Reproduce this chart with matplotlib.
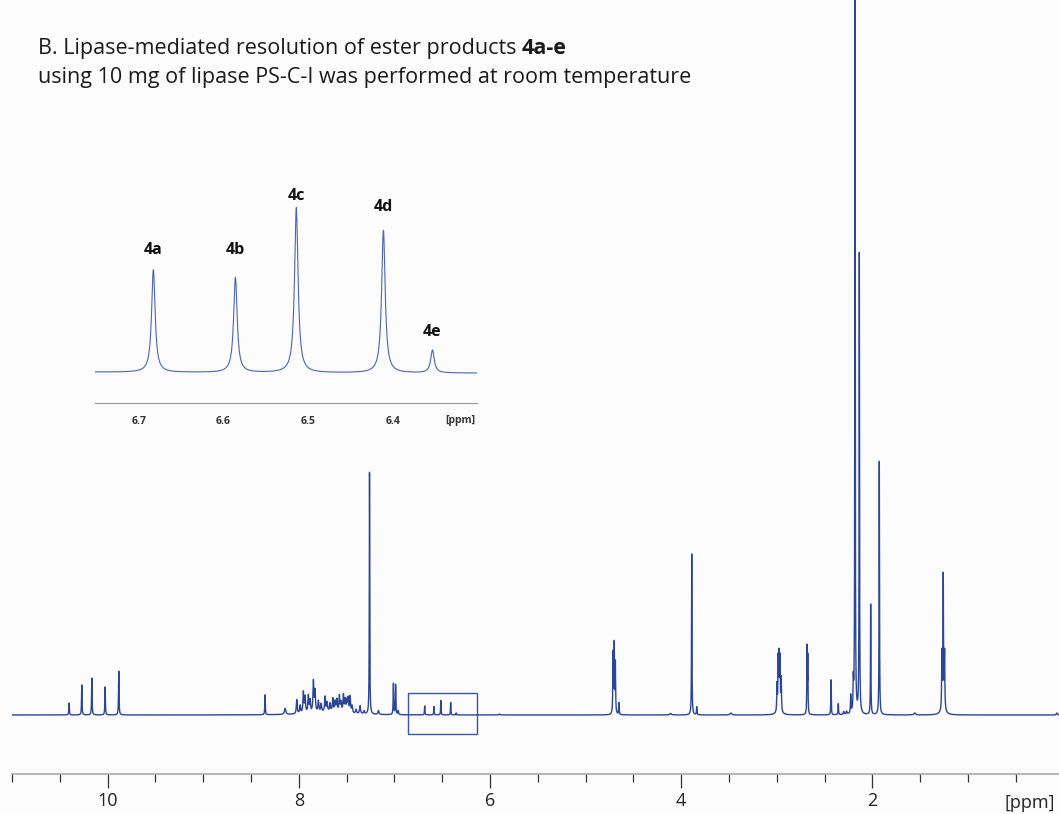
import numpy as np
import matplotlib
matplotlib.use('Agg')
import matplotlib.pyplot as plt
from matplotlib.patches import Rectangle

plt.rcParams['font.family'] = ['Open Sans', 'DejaVu Sans']

# 1H NMR peak list: shift (ppm), height (a.u.), half width (ppm)
shifts = [10.403, 10.27, 10.165, 10.026, 9.883,
          8.353,
          8.143, 8.021, 7.986, 7.952, 7.934, 7.900, 7.882, 7.847, 7.830,
          7.795, 7.767, 7.725, 7.704, 7.673, 7.644, 7.620, 7.602, 7.575,
          7.558, 7.533, 7.515, 7.498, 7.484, 7.463, 7.442, 7.401, 7.359, 7.317,
          7.68,
          7.26, 7.167, 7.01, 6.987, 6.96,
          6.683, 6.586, 6.514, 6.411, 6.353,
          5.90,
          4.712, 4.700, 4.688, 4.651, 4.11,
          3.889, 3.837, 3.48,
          2.997, 2.985, 2.975, 2.965, 2.953, 2.975,
          2.683, 2.675,
          2.432, 2.356, 2.30, 2.27, 2.226, 2.199, 2.181, 2.136, 2.017, 1.927,
          1.557,
          1.272, 1.258, 1.244, 1.258,
          0.07]
heights = [12, 30, 37, 28, 44,
           20,
           6, 14, 8, 21, 16, 17, 12, 31, 21,
           11, 8, 15, 9, 8, 13, 10, 12, 16,
           9, 17, 12, 11, 14, 16, 7, 4, 8, 3,
           3,
           242, 4, 31, 30, 4,
           9.0, 8.3, 14.4, 12.5, 2.0,
           1,
           60, 68, 50, 12, 1.5,
           162, 8, 2,
           26, 48, 48, 48, 32, 10,
           66, 56,
           35, 11, 3, 3, 18, 28, 760, 460, 111, 255,
           2,
           55, 130, 55, 8,
           2]
widths = [0.003, 0.003, 0.003, 0.003, 0.003,
          0.003,
          0.008, 0.0055, 0.0055, 0.0055, 0.0055, 0.0055, 0.0055, 0.0055, 0.0055,
          0.0055, 0.0055, 0.0055, 0.0055, 0.0055, 0.0055, 0.0055, 0.0055, 0.0055,
          0.0055, 0.0055, 0.0055, 0.0055, 0.0055, 0.0055, 0.0055, 0.006, 0.006, 0.006,
          0.2,
          0.0025, 0.006, 0.003, 0.003, 0.004,
          0.0025, 0.0025, 0.0025, 0.0025, 0.0025,
          0.006,
          0.003, 0.003, 0.003, 0.003, 0.01,
          0.0025, 0.003, 0.01,
          0.003, 0.003, 0.003, 0.003, 0.003, 0.015,
          0.0025, 0.0025,
          0.0025, 0.003, 0.005, 0.005, 0.003, 0.003, 0.0025, 0.0025, 0.0025, 0.0025,
          0.01,
          0.003, 0.003, 0.003, 0.02,
          0.006]

inset_labels = ['4a', '4b', '4c', '4d', '4e']
inset_label_x = [6.683, 6.586, 6.514, 6.411, 6.353]
inset_label_y = [10.8, 10.8, 15.5, 14.6, 3.7]
inset_ticks = [6.7, 6.6, 6.5, 6.4]
main_ticks = [10, 8, 6, 4, 2]

ppm = np.arange(11.05, -0.05, -0.0004)
spec = np.zeros_like(ppm)
for s, h, w in zip(shifts, heights, widths):
    spec += h / (1 + ((ppm - s) / w) ** 2)

W, H = 1059, 814
fig = plt.figure(figsize=(W / 100, H / 100), dpi=100, facecolor='#fcfcfd')

# main spectrum
ax = fig.add_axes([12 / W, (H - 774) / H, (W - 12) / W, 774 / H])
ax.set_facecolor('none')
ax.plot(ppm, spec, color='#2c4596', lw=1.0)
ax.set_xlim(11.0, 0.047)
ax.set_ylim(-59, 715)
for side in ['left', 'right', 'top']:
    ax.spines[side].set_visible(False)
ax.spines['bottom'].set_color('#a8a8a8')
ax.spines['bottom'].set_linewidth(1.2)
ax.set_yticks([])
ax.set_xticks(main_ticks)
ax.set_xticklabels([str(t) for t in main_ticks])
ax.set_xticks(np.arange(0.5, 11.01, 0.5), minor=True)
ax.tick_params(axis='x', which='major', length=10, width=0.9, color='#333333',
               labelsize=13, labelcolor='#222222', pad=3)
ax.tick_params(axis='x', which='minor', length=6, width=0.9, color='#333333')
ax.text(1030 / W, (H - 803) / H, '[ppm]', transform=fig.transFigure,
        ha='center', va='center', fontsize=13, color='#222222')

# box marking the zoomed region
ax.add_patch(Rectangle((6.138, -19.4), 0.719, 41.6, fill=False,
                       edgecolor='#3b55a8', lw=1.0))

# inset
ai = fig.add_axes([95 / W, (H - 403.3) / H, (477.3 - 95) / W, (403.3 - 180) / H])
ai.set_facecolor('none')
ai.plot(ppm, spec, color='#4d64b5', lw=0.8)
ai.set_xlim(6.752, 6.300)
ai.set_ylim(-2.56, 16.93)
for side in ['left', 'right', 'top']:
    ai.spines[side].set_visible(False)
ai.spines['bottom'].set_color('#999999')
ai.spines['bottom'].set_linewidth(0.8)
ai.set_yticks([])
ai.set_xticks(inset_ticks)
ai.set_xticklabels([f'{t:.1f}' for t in inset_ticks])
ai.tick_params(axis='x', length=0, labelsize=7.5, labelcolor='#333333', pad=9)
for lab in ai.get_xticklabels():
    lab.set_fontweight('bold')
ai.text(460 / W, (H - 420) / H, '[ppm]', transform=fig.transFigure,
        ha='center', va='center', fontsize=7.5, fontweight='bold', color='#333333')
for lab, x, y in zip(inset_labels, inset_label_x, inset_label_y):
    ai.text(x, y, lab, ha='center', va='center', fontsize=11.5,
            fontweight='bold', color='#111111')

# title
fs = 15.5
t1 = fig.text(38 / W, (H - 54) / H, 'B. Lipase-mediated resolution of ester products ',
              fontsize=fs, color='#1a1a1a', va='baseline', ha='left')
r = fig.canvas.get_renderer()
bb = t1.get_window_extent(renderer=r)
fig.text(bb.x1 / W, (H - 54) / H, '4a-e', fontsize=fs, fontweight='bold',
         color='#1a1a1a', va='baseline', ha='left')
fig.text(38 / W, (H - 83) / H,
         'using 10 mg of lipase PS-C-I was performed at room temperature',
         fontsize=fs, color='#1a1a1a', va='baseline', ha='left')

fig.savefig('out.png', dpi=100, facecolor=fig.get_facecolor())
